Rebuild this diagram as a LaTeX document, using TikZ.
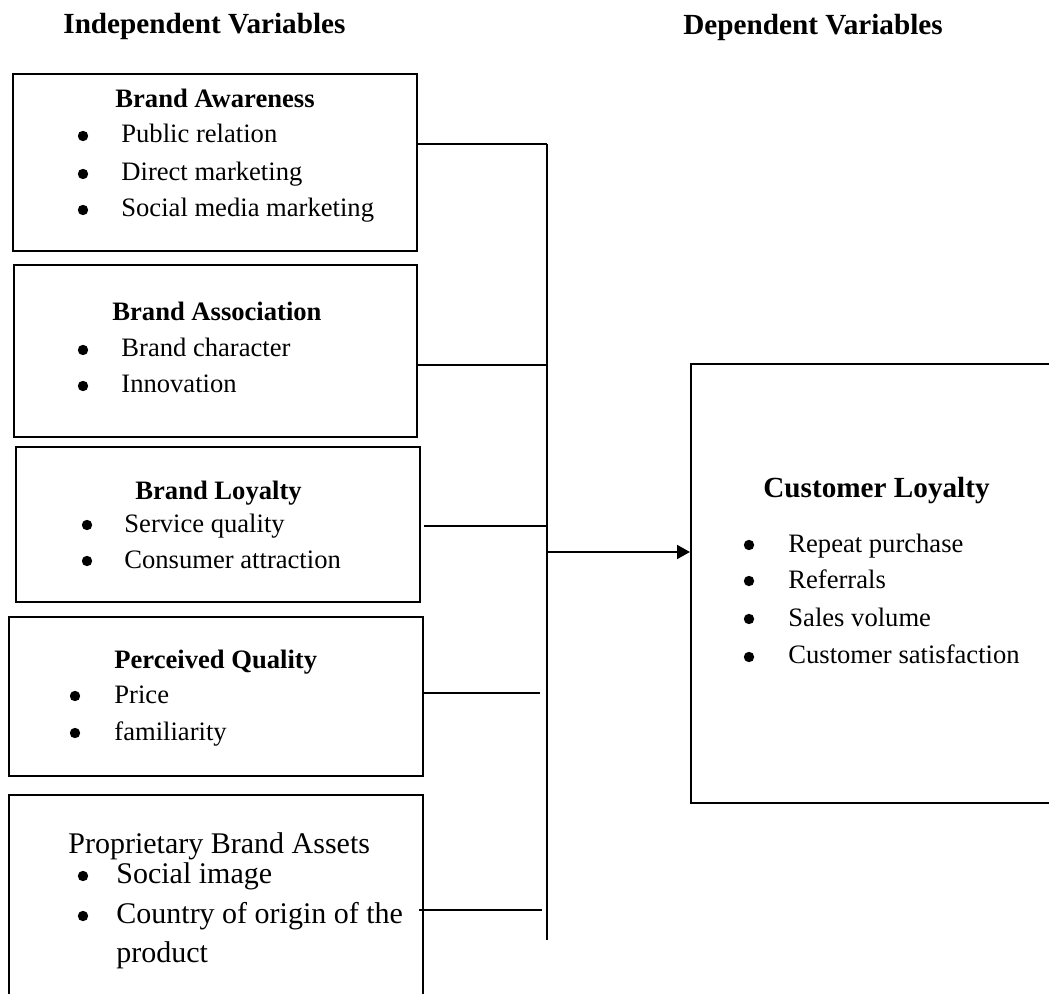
\documentclass[tikz,border=0pt]{standalone}
\usepackage{fontspec}
\setmainfont{Liberation Serif}
\usetikzlibrary{arrows.meta,fit,calc}
\tikzset{
	box/.style={draw, line width=1pt, inner sep=0pt},
	txt/.style={anchor=base west, inner sep=0pt, font=\fontsize{13.3}{16}\selectfont},
	sub/.style={txt, font=\fontsize{13.3}{16}\selectfont\bfseries},
	head/.style={txt, font=\fontsize{14.6}{17}\selectfont\bfseries},
	bigtxt/.style={txt, font=\fontsize{15}{18}\selectfont},
	wire/.style={line width=1pt},
}
\newcommand{\bul}[2]{\fill (#1,#2) circle[radius=2.6pt];}

\begin{document}
\begin{tikzpicture}[x=0.5pt,y=-0.5pt]
		%%%%% START %%%%%
		\clip (0,0) rectangle (1049,994);
		
		\node[head] (indep) at (63,34) {Independent Variables};
		\node[head] (dep) at (683,35) {Dependent Variables};
		
		%%%%% BOXES %%%%%
		\node[box, fit={(13,74) (417,251)}] (aware) {};
		\node[box, fit={(14,265) (417,437)}] (assoc) {};
		\node[box, fit={(16,447) (420,602)}] (bloyal) {};
		\node[box, fit={(9,617) (423,776)}] (qual) {};
		\node[box, fit={(9,795) (423,1010)}] (assets) {};
		\node[box, fit={(691,364) (1070,803)}] (cust) {};
		
		% brand awareness
		\node[sub] (awareT) at (115,108) {Brand Awareness};
		\node[txt] (aware1) at (121,143) {Public relation};
		\node[txt] (aware2) at (121,181) {Direct marketing};
		\node[txt] (aware3) at (121,217) {Social media marketing};
		\bul{83}{136} \bul{83}{174} \bul{83}{210}
		
		% brand association
		\node[sub] (assocT) at (112,321) {Brand Association};
		\node[txt] (assoc1) at (121,357) {Brand character};
		\node[txt] (assoc2) at (121,393) {Innovation};
		\bul{83}{350} \bul{83}{386}
		
		% brand loyalty
		\node[sub] (bloyalT) at (135,499) {Brand Loyalty};
		\node[txt] (bloyal1) at (124,532) {Service quality};
		\node[txt] (bloyal2) at (124,568) {Consumer attraction};
		\bul{87}{525} \bul{87}{561}
		
		% perceived quality
		\node[sub] (qualT) at (114,668) {Perceived Quality};
		\node[txt] (qual1) at (114,703) {Price};
		\node[txt] (qual2) at (114,740) {familiarity};
		\bul{75}{696} \bul{75}{733}
		
		% proprietary assets
		\node[bigtxt] (assetsT) at (68,853) {Proprietary Brand Assets};
		\node[bigtxt] (assets1) at (116,883) {Social image};
		\node[bigtxt] (assets2) at (116,923) {Country of origin of the};
		\node[bigtxt] (assets3) at (116,962) {product};
		\bul{83}{876} \bul{83}{916}
		
		% customer loyalty
		\node[head] (custT) at (763,497) {Customer Loyalty};
		\node[txt] (cust1) at (788,552) {Repeat purchase};
		\node[txt] (cust2) at (788,588) {Referrals};
		\node[txt] (cust3) at (788,626) {Sales volume};
		\node[txt] (cust4) at (788,663) {Customer satisfaction};
		\bul{749}{545} \bul{749}{581} \bul{749}{619} \bul{749}{657}
		
		%%%%% LINES %%%%%
		\coordinate (bustop) at (547,144);
		\coordinate (busend) at (547,940);
		\coordinate (j2) at (547,365);
		\coordinate (j3) at (547,526);
		\coordinate (j4) at (540,693);
		\coordinate (j5) at (542,910);
		\coordinate (jout) at (547,552);
		
		\draw[wire] (bustop) -- (busend);
		\draw[wire] (aware.east |- bustop) -- (bustop);
		\draw[wire] (assoc.east |- j2) -- (j2);
		\draw[wire] ($(bloyal.east |- j3)+(3,0)$) -- (j3);
		\draw[wire] (qual.east |- j4) -- (j4);
		\draw[wire] ($(assets.east |- j5)+(-5,0)$) -- (j5);
		\draw[wire, -{Triangle[length=6.5pt,width=7pt]}] (jout) -- (cust.west |- jout);
		
		%%%%% END %%%%%
\end{tikzpicture}
\end{document}
